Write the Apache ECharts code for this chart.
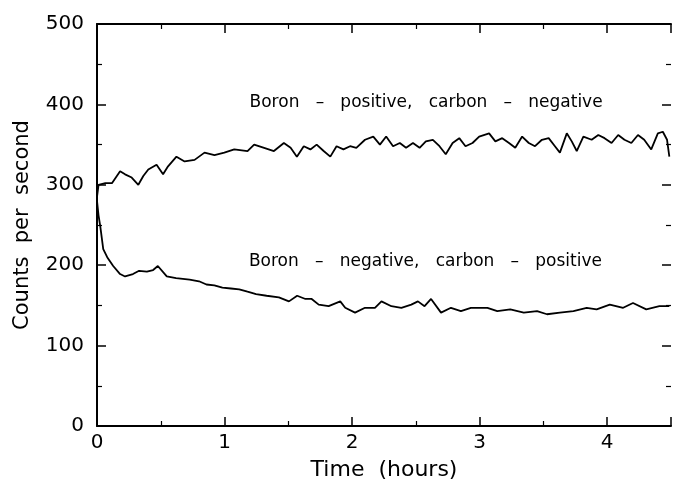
<!DOCTYPE html>
<html>
<head>
<meta charset="utf-8">
<script src="https://cdn.jsdelivr.net/npm/echarts@6/dist/echarts.min.js"></script>
<style>html,body{margin:0;padding:0;background:#fff;}#c{width:674px;height:486px;}</style>
</head>
<body>
<div id="c"></div>
<script>
// Upper trace: Boron positive, carbon negative
var upperT = [0.000,0.012,0.065,0.117,0.181,0.220,0.272,0.324,0.363,0.402,0.467,0.518,0.557,0.623,0.687,0.765,0.843,0.921,0.998,1.076,1.180,1.232,1.310,1.387,1.465,
  1.518,1.567,1.621,1.673,1.722,1.777,1.829,1.878,1.932,1.984,2.033,2.101,2.166,2.218,2.267,2.321,2.374,2.423,2.477,2.529,2.578,2.633,2.685,2.734,2.788,2.840,2.889,2.944,2.996,
  3.074,3.123,3.177,3.230,3.279,3.333,3.385,3.434,3.488,3.541,3.590,3.629,3.683,3.722,3.761,3.813,3.878,3.930,3.979,4.034,4.086,4.135,4.189,4.241,4.290,4.345,4.397,4.436,4.469,4.487];
var upperV = [285,300,302,302,317,313,309,300,311,319,325,313,323,335,329,331,340,337,340,344,342,350,346,342,352,
  346,335,348,344,350,342,335,348,344,348,346,356,360,350,360,348,352,346,352,346,354,356,348,338,352,358,348,352,360,
  364,354,358,352,346,360,352,348,356,358,348,340,364,354,342,360,356,362,358,352,362,356,352,362,356,344,364,366,356,335];
// Lower trace: Boron negative, carbon positive
var lowerT = [0.000,0.012,0.026,0.049,0.080,0.127,0.181,0.220,0.282,0.330,0.391,0.440,0.477,0.547,0.620,0.726,0.800,0.858,0.920,0.983,1.050,1.115,1.180,1.247,1.330,1.426,
  1.505,1.569,1.634,1.683,1.738,1.816,1.907,1.946,2.023,2.101,2.179,2.230,2.308,2.386,2.464,2.516,2.568,2.619,2.697,2.775,2.853,2.931,
  2.983,3.061,3.138,3.240,3.346,3.450,3.528,3.629,3.735,3.839,3.917,4.020,4.125,4.202,4.306,4.409,4.487];
var lowerV = [280,262,248,220,210,199,189,186,189,193,192,194,199,186,184,182,180,176,175,172,171,170,167,164,162,160,
  155,162,158,158,151,149,155,147,141,147,147,155,149,147,151,155,149,158,141,147,143,147,
  147,147,143,145,141,143,139,141,143,147,145,151,147,153,145,149,149];
var xTicks = [0,1,2,3,4];
var yTicks = [0,100,200,300,400,500];
var upperLabel = 'Boron   \u2013   positive,   carbon   \u2013   negative';
var lowerLabel = 'Boron   \u2013   negative,   carbon   \u2013   positive';

function pairs(t, v){ return t.map(function(x,i){ return [x, v[i]]; }); }

var FONT = 'DejaVu Sans';
var chart = echarts.init(document.getElementById('c'), null, {renderer:'canvas'});
function axisBase(lineShow){
  return {
    axisLine:{show:lineShow, onZero:false, lineStyle:{color:'#000', width:2}},
    axisTick:{show:true, inside:true, length:9, lineStyle:{color:'#000', width:1.5}},
    minorTick:{show:true, splitNumber:2, length:5, lineStyle:{color:'#000', width:1.2}},
    splitLine:{show:false},
    minorSplitLine:{show:false}
  };
}
chart.setOption({
  animation:false,
  backgroundColor:'#fff',
  grid:{left:97, top:24, width:578, height:403, containLabel:false},
  xAxis:[
    Object.assign({type:'value', min:0, max:4.5, interval:1, position:'bottom',
      name:'Time  (hours)', nameLocation:'middle', nameGap:33,
      nameTextStyle:{fontFamily:FONT, fontSize:22, color:'#000'},
      axisLabel:{fontFamily:FONT, fontSize:20, color:'#000', margin:7,
        formatter:function(v){ return xTicks.indexOf(v) >= 0 ? String(v) : ''; }}
    }, axisBase(true)),
    Object.assign({type:'value', min:0, max:4.5, interval:1, position:'top', axisLabel:{show:false}}, axisBase(true))
  ],
  yAxis:[
    Object.assign({type:'value', min:0, max:500, interval:100, position:'left',
      name:'Counts  per  second', nameLocation:'middle', nameGap:64,
      nameTextStyle:{fontFamily:FONT, fontSize:21, color:'#000'},
      axisLabel:{fontFamily:FONT, fontSize:20, color:'#000', margin:13,
        formatter:function(v){ return yTicks.indexOf(v) >= 0 ? String(v) : ''; }}
    }, axisBase(true)),
    Object.assign({type:'value', min:0, max:500, interval:100, position:'right', axisLabel:{show:false}}, axisBase(false))
  ],
  series:[
    {type:'line', data:pairs(upperT, upperV), showSymbol:false, symbol:'none',
      lineStyle:{color:'#000', width:1.8}, silent:true,
      markPoint:{symbol:'circle', symbolSize:0, silent:true,
        label:{show:true, formatter:upperLabel, fontFamily:FONT, fontSize:17, color:'#000', position:'inside'},
        data:[{coord:[2.58, 402]}]}
    },
    {type:'line', data:pairs(lowerT, lowerV), showSymbol:false, symbol:'none',
      lineStyle:{color:'#000', width:1.8}, silent:true,
      markPoint:{symbol:'circle', symbolSize:0, silent:true,
        label:{show:true, formatter:lowerLabel, fontFamily:FONT, fontSize:17, color:'#000', position:'inside'},
        data:[{coord:[2.575, 205]}]}
    }
  ]
});
</script>
</body>
</html>
